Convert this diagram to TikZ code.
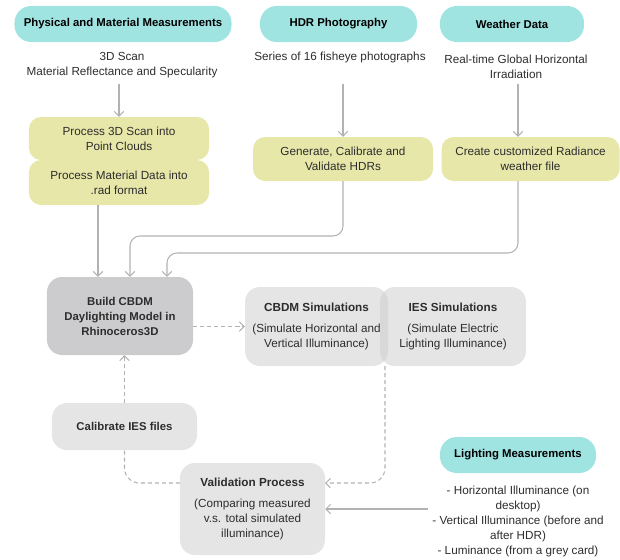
\documentclass[tikz,border=0pt]{standalone}
\usepackage{fontspec}
\setmainfont{Liberation Sans}
\usetikzlibrary{arrows.meta}
\definecolor{pill}{RGB}{160, 228, 226}
\definecolor{sand}{RGB}{231, 231, 170}
\definecolor{fog}{RGB}{203, 203, 205}
\definecolor{slate}{RGB}{204, 204, 206}
\definecolor{wire}{RGB}{178, 178, 178}
\definecolor{ink}{RGB}{45, 45, 45}

\begin{document}
\begin{tikzpicture}[x=0.03cm, y=-0.03cm, font=\fontsize{10}{12.8}\selectfont, text=ink]
        \useasboundingbox (0,0) rectangle (620,559);
        \tikzset{
          pillbox/.style={fill=pill, rounded corners=0.5cm, minimum height=1.08cm, font=\fontsize{9.7}{12.8}\selectfont\bfseries, text=black},
          sandbox/.style={fill=sand, rounded corners=0.36cm, minimum width=5.4cm, align=center},
          fogbox/.style={fill=fog, fill opacity=0.5, text opacity=1, rounded corners=0.45cm, minimum width=4.35cm, minimum height=2.37cm, align=center},
          flow/.style={draw=wire, line width=0.9pt, -{Straight Barb[length=1.4mm, width=2.8mm]}},
          dflow/.style={flow, dash pattern=on 3.5pt off 2.5pt},
          dline/.style={draw=wire, line width=0.9pt, dash pattern=on 3.5pt off 2.5pt}
        }
        % Fontes de dados
        \node[pillbox, minimum width=6.51cm] (phys) at (123,24) {Physical and Material Measurements};
        \node[pillbox, minimum width=4.71cm] (hdrp) at (338.5,24) {HDR Photography};
        \node[pillbox, minimum width=4.32cm] (weat) at (512,24) {Weather Data};
        \node[align=center] (physt) at (122,65.5) {3D Scan\\Material Reflectance and Specularity};
        \node (hdrt) at (340,57) {Series of 16 fisheye photographs};
        \node[align=center] (weatt) at (516,66.5) {Real-time Global Horizontal\\Irradiation};

        % Processamento
        \node[sandbox, minimum height=1.29cm] (scan) at (119,138.5) {Process 3D Scan into\\Point Clouds};
        \node[sandbox, minimum height=1.35cm] (mat) at (119,182.5) {Process Material Data into\\.rad format};
        \node[sandbox, minimum height=1.32cm] (hdr) at (343,159) {Generate, Calibrate and\\Validate HDRs};
        \node[sandbox, minimum width=5.34cm, minimum height=1.32cm] (wfile) at (530.5,159) {Create customized Radiance\\weather file};

        % Modelo e simulações
        \node[fill=slate, rounded corners=0.45cm, minimum width=4.38cm, minimum height=2.34cm, align=center, font=\fontsize{9.7}{12.8}\selectfont\bfseries] (build) at (120,316) {Build CBDM\\Daylighting Model in\\Rhinoceros3D};
        \node[fogbox, minimum width=4.29cm] (cbdm) at (316.5,326.5) {\textbf{CBDM Simulations}\\[5pt](Simulate Horizontal and\\Vertical Illuminance)};
        \node[fogbox, minimum width=4.38cm] (ies) at (453,326.5) {\textbf{IES Simulations}\\[5pt](Simulate Electric\\Lighting Illuminance)};

        % Validação
        \node[fogbox, minimum width=4.35cm, minimum height=1.41cm, font=\fontsize{9.7}{12.8}\selectfont\bfseries] (calib) at (124.5,426.5) {Calibrate IES files};
        \node[fogbox, minimum width=4.35cm, minimum height=2.76cm] (valid) at (252.5,509) {\textbf{Validation Process}\\[5pt](Comparing measured\\v.s. total simulated\\illuminance)};
        \node[pillbox, minimum width=4.68cm] (light) at (518,455) {Lighting Measurements};
        \node[align=center] (lightt) at (518,521) {- Horizontal Illuminance (on\\desktop)\\- Vertical Illuminance (before and\\after HDR)\\- Luminance (from a grey card)};

        % Pontos auxiliares
        \coordinate (s0) at (119,84);
        \coordinate (h0) at (343,84);
        \coordinate (w0) at (518,84);
        \coordinate (w1) at (518,181);
        \coordinate (m0) at (98,205);
        \coordinate (j1) at (130,236);
        \coordinate (j2) at (167,253);
        \coordinate (ov) at (385,366);
        \coordinate (v1) at (325,483);
        \coordinate (v2) at (180,483);

        % Setas
        \draw[flow] (s0) -- (s0 |- scan.north);
        \draw[flow] (h0) -- (hdr.north);
        \draw[flow] (w0) -- (w0 |- wfile.north);
        \draw[flow] (m0) -- (m0 |- build.north);
        \draw[flow, rounded corners=0.3cm] (hdr.south) |- (j1) -- (j1 |- build.north);
        \draw[flow, rounded corners=0.3cm] (w1) |- (j2) -- (j2 |- build.north);
        \draw[dflow] (build.east |- cbdm.west) -- (cbdm.west);
        \draw[dflow, rounded corners=0.45cm] (ov) |- (v1);
        \draw[flow] (lightt.west |- valid.east) -- (valid.east);
        \draw[dline, rounded corners=0.45cm] (v2) -| (calib.south);
        \draw[dflow] (calib.north) -- (calib.north |- build.south);
    \end{tikzpicture}
\end{document}
